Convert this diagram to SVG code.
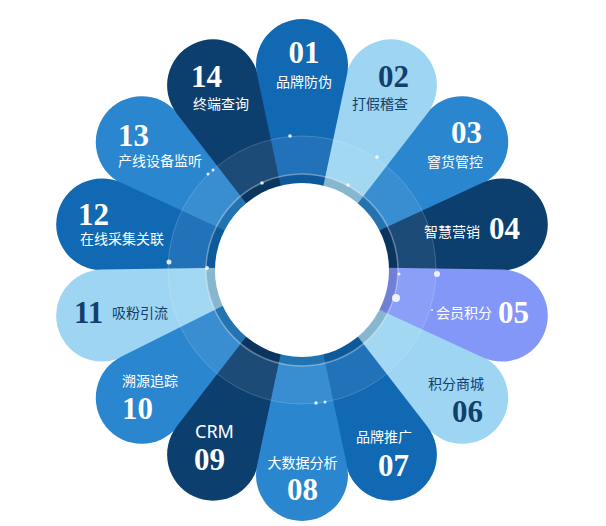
<svg xmlns="http://www.w3.org/2000/svg" width="606" height="526" viewBox="0 0 606 526">
<defs>
<style>
.num{font-family:"Liberation Serif","Times New Roman",serif;font-weight:bold;font-size:31px;fill:#fff}
.lbl{font-family:"Noto Sans CJK SC","Noto Sans",sans-serif;font-size:14px;fill:#fff}
.crm{font-family:"Noto Sans","Noto Sans CJK SC",sans-serif;font-size:18px;fill:#fff}
.dk{fill:#123f6c}
.c1{fill:#1168b3}
.c2{fill:#9dd5f2}
.c3{fill:#2a86cf}
.c4{fill:#0c3e6e}
.c5{fill:#8397f8}
.dot{fill:#fff;opacity:0.85}
</style>
<path id="petal" d="M -3.5,0 L -45,-195.4 A 46 46 0 1 1 45,-195.4 L 3.5,0 Z"/>
</defs>
<rect width="606" height="526" fill="#fff"/>
<g transform="translate(302,270)">
<g id="p03"><use href="#petal" class="c3" transform="rotate(51.43)"/></g>
<g id="p06"><use href="#petal" class="c2" transform="rotate(128.57)"/></g>
<g id="p13"><use href="#petal" class="c3" transform="rotate(308.57)"/></g>
<g id="p02"><use href="#petal" class="c2" transform="rotate(25.71)"/></g>
<g id="p04"><use href="#petal" class="c4" transform="rotate(77.14)"/></g>
<g id="p07"><use href="#petal" class="c1" transform="rotate(154.29)"/></g>
<g id="p12"><use href="#petal" class="c1" transform="rotate(282.86)"/></g>
<g id="p14"><use href="#petal" class="c4" transform="rotate(334.29)"/></g>
<g id="p11"><use href="#petal" class="c2" transform="rotate(257.14)"/></g>
<g id="p10"><use href="#petal" class="c3" transform="rotate(231.43)"/></g>
<g id="p09"><use href="#petal" class="c4" transform="rotate(205.71)"/></g>
<g id="p01"><use href="#petal" class="c1" transform="rotate(0)"/></g>
<g id="p05"><use href="#petal" class="c5" transform="rotate(102.86)"/></g>
<g id="p08"><use href="#petal" class="c3" transform="rotate(180)"/></g>
</g>
<g id="hub">
<circle cx="302" cy="270" r="115" fill="none" stroke="#fff" stroke-opacity="0.07" stroke-width="38"/>
<circle cx="302" cy="270" r="134" fill="none" stroke="#fff" stroke-opacity="0.18" stroke-width="1"/>
<circle cx="302" cy="270" r="91.5" fill="none" stroke="#000" stroke-opacity="0.14" stroke-width="9"/>
<circle cx="302" cy="270" r="96" fill="none" stroke="#fff" stroke-opacity="0.35" stroke-width="1.5"/>
<circle cx="302" cy="270" r="87" fill="#fff"/>
<circle class="dot" cx="290" cy="136" r="1.8"/>
<circle class="dot" cx="377" cy="157" r="1.8"/>
<circle class="dot" cx="262" cy="183" r="1.8"/>
<circle class="dot" cx="348" cy="185" r="1.8"/>
<circle class="dot" cx="207" cy="268" r="2"/>
<circle class="dot" cx="169" cy="262" r="2.5"/>
<circle class="dot" cx="208" cy="174" r="1.5"/>
<circle class="dot" cx="213" cy="170" r="1.5"/>
<circle class="dot" cx="399" cy="274" r="1.5"/>
<circle class="dot" cx="437" cy="274" r="3"/>
<circle class="dot" cx="396" cy="298" r="4"/>
<circle class="dot" cx="432" cy="310" r="1"/>
<circle class="dot" cx="316" cy="403" r="1.8"/>
<circle class="dot" cx="325" cy="402" r="1.5"/>
</g>
<g id="labels">
<g id="t01"><text class="num" x="304" y="63" text-anchor="middle">01</text><text class="lbl" x="304" y="87" text-anchor="middle">品牌防伪</text></g>
<g id="t02"><text class="num dk" x="378" y="87">02</text><text class="lbl dk" x="352" y="109">打假稽查</text></g>
<g id="t03"><text class="num" x="451" y="143">03</text><text class="lbl" x="427" y="167">窨货管控</text></g>
<g id="t04"><text class="lbl" x="424" y="237">智慧营销</text><text class="num" x="489" y="239">04</text></g>
<g id="t05"><text class="lbl" x="436" y="318">会员积分</text><text class="num" x="498" y="323">05</text></g>
<g id="t06"><text class="lbl dk" x="428" y="389">积分商城</text><text class="num dk" x="452" y="422">06</text></g>
<g id="t07"><text class="lbl" x="356" y="442">品牌推广</text><text class="num" x="378" y="476">07</text></g>
<g id="t08"><text class="lbl" x="302.5" y="468" text-anchor="middle">大数据分析</text><text class="num" x="302.5" y="500" text-anchor="middle">08</text></g>
<g id="t09"><text class="crm" x="195" y="438">CRM</text><text class="num" x="194" y="470">09</text></g>
<g id="t10"><text class="lbl" x="122" y="386">溯源追踪</text><text class="num" x="122" y="419">10</text></g>
<g id="t11"><text class="num dk" x="74" y="323">11</text><text class="lbl dk" x="112" y="318">吸粉引流</text></g>
<g id="t12"><text class="num" x="78" y="225">12</text><text class="lbl" x="80" y="244">在线采集关联</text></g>
<g id="t13"><text class="num" x="118" y="146">13</text><text class="lbl" x="118" y="166">产线设备监听</text></g>
<g id="t14"><text class="num" x="191" y="87">14</text><text class="lbl" x="193" y="109">终端查询</text></g>
</g>
</svg>
